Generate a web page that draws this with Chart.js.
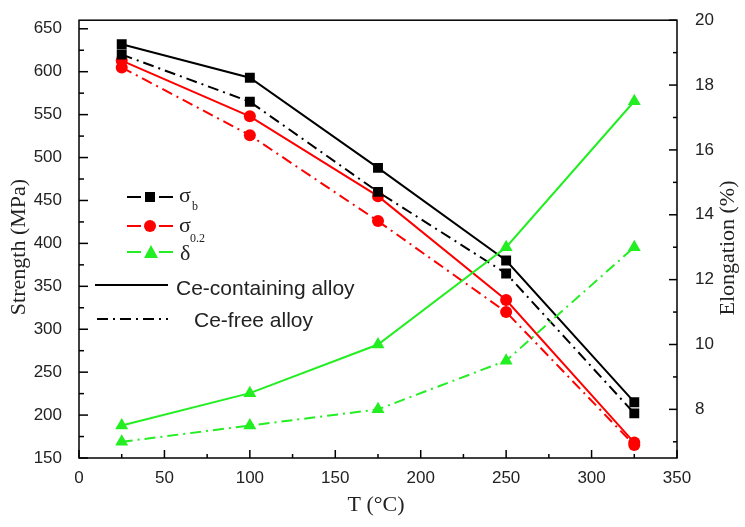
<!DOCTYPE html>
<html><head><meta charset="utf-8">
<script src="https://cdn.jsdelivr.net/npm/chart.js@4"></script>
<style>html,body{margin:0;padding:0;background:#fff;overflow:hidden}#wrap{width:745px;height:527px;position:relative}</style>
</head><body><div id="wrap"><canvas id="c" width="745" height="527" style="width:745px;height:527px"></canvas></div>
<script>
const temperatures = [25, 100, 175, 250, 325];
const sigmaB_Ce = [632, 593, 488, 380, 215];
const sigmaB_free = [620, 565, 460, 365, 202];
const sigma02_Ce = [613, 548, 455, 334, 168];
const sigma02_free = [605, 526, 426, 320, 165];
const delta_Ce = [7.5, 8.5, 10, 13, 17.5];
const delta_free = [7, 7.5, 8, 9.5, 13];
const xTicks = [0, 50, 100, 150, 200, 250, 300, 350];
const strengthTicks = [150, 200, 250, 300, 350, 400, 450, 500, 550, 600, 650];
const elongationTicks = [8, 10, 12, 14, 16, 18, 20];

const BLACK = '#000000', RED = '#ff0000', GREEN = '#22ee22';
const DASHDOT = [11, 5, 2, 5];
const pts = arr => arr.map((v, i) => ({x: temperatures[i], y: v}));

function ds(label, data, color, style, radius, dashed, axis) {
  return {
    label, data: pts(data), yAxisID: axis,
    borderColor: color, backgroundColor: color,
    pointBackgroundColor: color, pointBorderColor: color,
    pointStyle: style, pointRadius: radius, pointBorderWidth: 0,
    borderWidth: 2, borderDash: dashed ? DASHDOT : [], tension: 0, fill: false
  };
}

const decor = {
  id: 'decor',
  afterDraw(chart) {
    const {ctx, chartArea: a, scales} = chart;
    const sx = scales.x, sy = scales.y, sy2 = scales.y2;
    ctx.save();
    ctx.strokeStyle = '#000'; ctx.lineWidth = 1.5; ctx.setLineDash([]);
    ctx.strokeRect(a.left, a.top, a.right - a.left, a.bottom - a.top);
    ctx.lineWidth = 1.5;
    const line = (x1, y1, x2, y2) => { ctx.beginPath(); ctx.moveTo(x1, y1); ctx.lineTo(x2, y2); ctx.stroke(); };
    xTicks.forEach(v => { const p = sx.getPixelForValue(v); line(p, a.bottom, p, a.bottom - 8); });
    xTicks.slice(0, -1).forEach(v => { const p = sx.getPixelForValue(v + 25); line(p, a.bottom, p, a.bottom - 4); });
    strengthTicks.forEach(v => { const p = sy.getPixelForValue(v); line(a.left, p, a.left + 9, p); });
    strengthTicks.slice(0, -1).forEach(v => { const p = sy.getPixelForValue(v + 25); line(a.left, p, a.left + 5, p); });
    elongationTicks.forEach(v => { const p = sy2.getPixelForValue(v); line(a.right, p, a.right - 8, p); });
    elongationTicks.forEach(v => { const p = sy2.getPixelForValue(v - 1); line(a.right, p, a.right - 4, p); });

    // axis titles
    ctx.fillStyle = '#222';
    ctx.font = '22px "Liberation Serif", serif';
    ctx.textAlign = 'center'; ctx.textBaseline = 'middle';
    ctx.save(); ctx.translate(19, 247); ctx.rotate(-Math.PI / 2); ctx.fillText('Strength (MPa)', 0, 0); ctx.restore();
    ctx.save(); ctx.translate(728, 248); ctx.rotate(-Math.PI / 2); ctx.fillText('Elongation (%)', 0, 0); ctx.restore();
    ctx.fillText('T (\u00B0C)', 376, 505);

    // legend
    const seg = (color, y, dash) => {
      ctx.strokeStyle = color; ctx.lineWidth = 2; ctx.setLineDash(dash);
      line(127, y, 141, y); line(159, y, 173, y); ctx.setLineDash([]);
    };
    ctx.fillStyle = BLACK; seg(BLACK, 197, []);
    ctx.fillRect(145, 192, 10, 10);
    seg(RED, 226, []);
    ctx.fillStyle = RED; ctx.beginPath(); ctx.arc(150, 226, 6, 0, Math.PI * 2); ctx.fill();
    seg(GREEN, 252, []);
    ctx.fillStyle = GREEN; ctx.beginPath(); ctx.moveTo(151, 245); ctx.lineTo(158, 258); ctx.lineTo(144, 258); ctx.closePath(); ctx.fill();

    ctx.fillStyle = '#222'; ctx.textAlign = 'left'; ctx.textBaseline = 'alphabetic';
    ctx.font = '22px "Liberation Serif", serif';
    ctx.fillText('\u03C3', 179, 202);
    ctx.fillText('\u03C3', 179, 232);
    ctx.fillText('\u03B4', 180, 260);
    ctx.font = '12px "Liberation Serif", serif';
    ctx.fillText('b', 192, 210);
    ctx.fillText('0.2', 190, 242);

    ctx.strokeStyle = BLACK; ctx.lineWidth = 2;
    line(95, 285, 168, 285);
    ctx.setLineDash(DASHDOT); line(97, 319, 168, 319); ctx.setLineDash([]);
    ctx.font = '21px "Liberation Sans", Arial, sans-serif';
    ctx.fillText('Ce-containing alloy', 176, 295);
    ctx.fillText('Ce-free alloy', 194, 327);
    ctx.restore();
  }
};

const tickFont = {family: '"Liberation Sans", Arial, sans-serif', size: 17};
new Chart(document.getElementById('c'), {
  type: 'line',
  data: {
    datasets: [
      ds('δ Ce-containing', delta_Ce, GREEN, 'triangle', 7.5, false, 'y2'),
      ds('δ Ce-free', delta_free, GREEN, 'triangle', 7.5, true, 'y2'),
      ds('σb Ce-containing', sigmaB_Ce, BLACK, 'rect', 7, false, 'y'),
      ds('σb Ce-free', sigmaB_free, BLACK, 'rect', 7, true, 'y'),
      ds('σ0.2 Ce-containing', sigma02_Ce, RED, 'circle', 6, false, 'y'),
      ds('σ0.2 Ce-free', sigma02_free, RED, 'circle', 6, true, 'y')
    ]
  },
  options: {
    responsive: false, animation: false, maintainAspectRatio: false,
    devicePixelRatio: 1,
    layout: {padding: {left: 0, right: 0, top: 15, bottom: 0}},
    plugins: {legend: {display: false}, tooltip: {enabled: false}},
    scales: {
      x: {
        type: 'linear', min: 0, max: 350,
        afterBuildTicks: s => { s.ticks = xTicks.map(v => ({value: v})); },
        afterFit: s => { s.height = 69; },
        ticks: {font: tickFont, color: '#222', padding: 2, maxRotation: 0, autoSkip: false},
        grid: {display: false}, border: {display: false}
      },
      y: {
        position: 'left', min: 150, max: 660,
        afterBuildTicks: s => { s.ticks = strengthTicks.map(v => ({value: v})); },
        afterFit: s => { s.width = 79; },
        ticks: {font: tickFont, color: '#222', padding: 9, autoSkip: false},
        grid: {display: false}, border: {display: false}
      },
      y2: {
        position: 'right', min: 6.5, max: 20,
        afterBuildTicks: s => { s.ticks = elongationTicks.map(v => ({value: v})); },
        afterFit: s => { s.width = 68; },
        ticks: {font: tickFont, color: '#222', padding: 10, autoSkip: false},
        grid: {display: false}, border: {display: false}
      }
    }
  },
  plugins: [decor]
});
</script>
</body></html>
